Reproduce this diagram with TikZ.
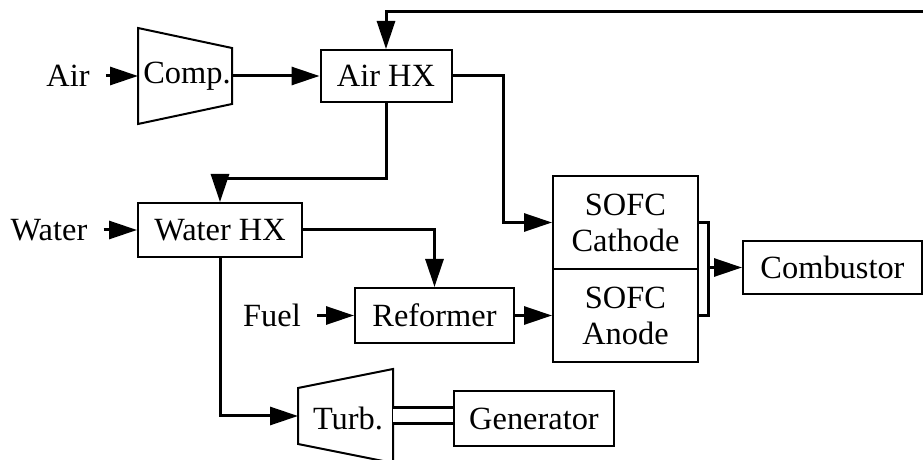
\documentclass[tikz,border=0pt]{standalone}
\usepackage{fontspec}
\setmainfont{Liberation Serif}
\usetikzlibrary{arrows.meta,positioning}
\tikzset{
    unit/.style={draw, line width=1pt, inner sep=0pt, align=center,
        font=\fontsize{16.2}{18}\selectfont},
    feed/.style={inner sep=8pt, font=\fontsize{16.2}{18}\selectfont},
    flow/.style={line width=1.5pt, -{Triangle[length=14pt,width=9pt]}},
    wire/.style={line width=1.5pt},
    shaft/.style={line width=1.5pt, double distance=6.5pt},
}

\begin{document}
\begin{tikzpicture}[x=0.5pt, y=-0.5pt]
    \useasboundingbox (0,0) rectangle (923,460);

    % compressor and turbine
    \draw[line width=1pt] (138,28) -- (232,48) -- (232,104) -- (138,124) -- cycle;
    \node[inner sep=0pt, font=\fontsize{16.2}{18}\selectfont] (comp) at (187,76) {Comp.};
    \coordinate (compin) at (138,76);
    \coordinate (compout) at (232,76);
    \draw[line width=1pt] (298,388) -- (393,369) -- (393,463) -- (298,444) -- cycle;
    \node[inner sep=0pt, font=\fontsize{16.2}{18}\selectfont] (turb) at (348,418) {Turb.};
    \coordinate (turbin) at (298,416);
    \coordinate (turbout) at (393,416);

    % units
    \node[unit, minimum width=65.5pt, minimum height=26pt] (airhx) at (386,76) {Air HX};
    \node[unit, minimum width=82pt, minimum height=27pt] (waterhx) at (220,230) {Water HX};
    \node[unit, minimum width=79.5pt, minimum height=27.5pt] (reformer) at (434.5,315.5) {Reformer};
    \node[unit, minimum width=72.5pt, minimum height=46.5pt] (cathode) at (625.5,222.5) {SOFC\\Cathode};
    \node[unit, minimum width=72.5pt, minimum height=46.5pt] (anode) at (625.5,315.5) {SOFC\\Anode};
    \node[unit, minimum width=89.5pt, minimum height=26.5pt] (combustor) at (832.5,267.5) {Combustor};
    \node[unit, minimum width=80pt, minimum height=27.5pt] (generator) at (534,418.5) {Generator};

    % feeds
    \node[feed] (air) at (68,76) {Air};
    \node[feed] (water) at (49,230) {Water};
    \node[feed] (fuel) at (272,315.5) {Fuel};
    \coordinate (recycle) at (930,12);

    % streams
    \draw[flow] (air) -- (compin);
    \draw[flow] (compout) -- (airhx);
    \draw[flow] (recycle) -| (airhx.north);
    \draw[flow] (airhx.east) -- ++(51,0) |- (cathode.west);
    \draw[flow] (airhx.south) -- ++(0,76) -| (waterhx.north);
    \draw[flow] (water) -- (waterhx);
    \draw[flow] (waterhx.east) -| (reformer.north);
    \draw[flow] (waterhx.south) |- (turbin);
    \draw[flow] (fuel) -- (reformer);
    \draw[flow] (reformer) -- (anode);
    \draw[wire] (cathode.east) -- ++(9,0) coordinate (merge) |- (anode.east);
    \draw[flow] (merge |- combustor.west) -- (combustor.west);
    \draw[shaft] (turbout) -- (turbout -| generator.west);
\end{tikzpicture}
\end{document}
